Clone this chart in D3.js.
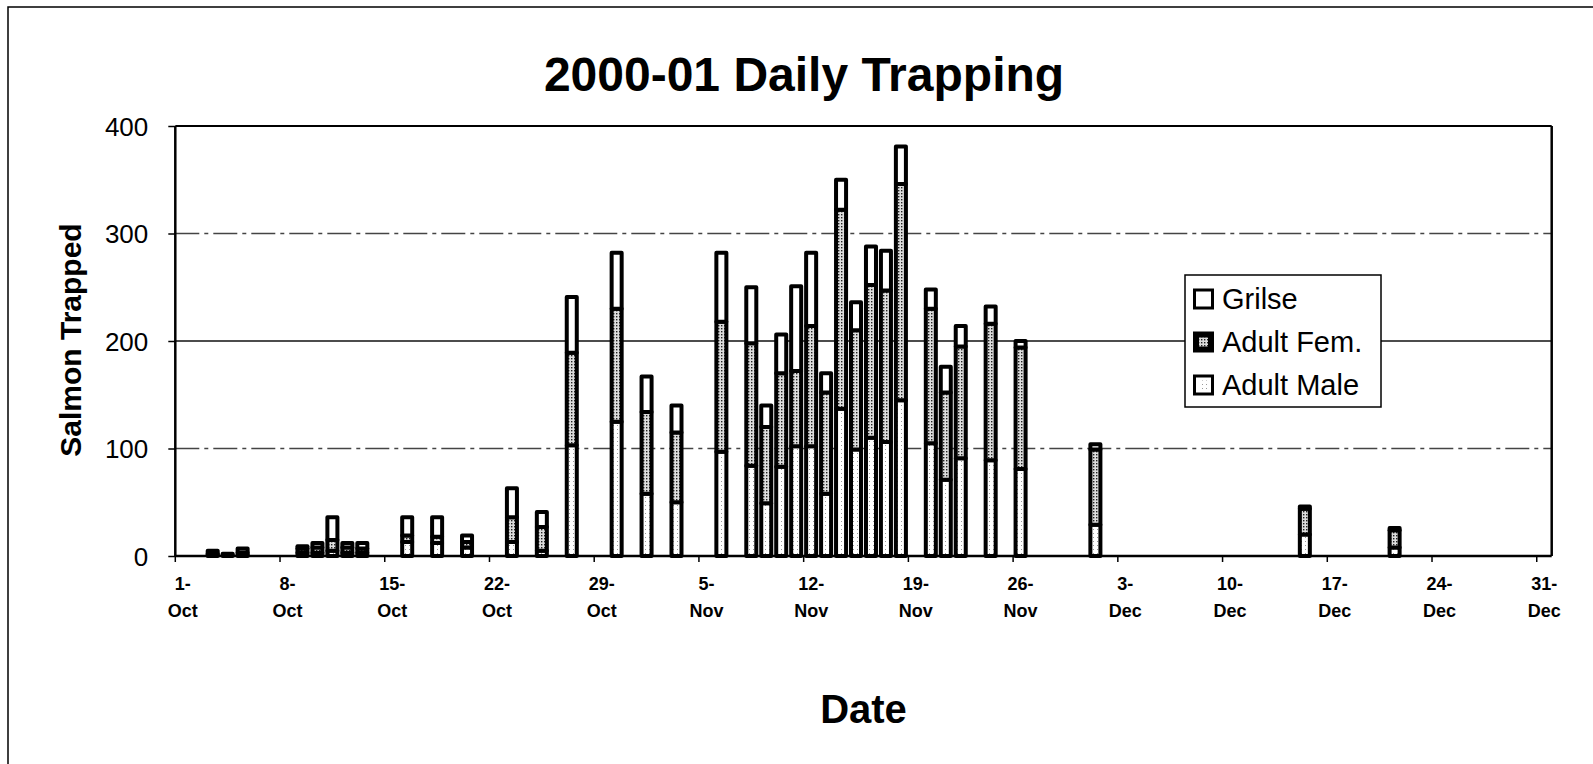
<!DOCTYPE html>
<html><head><meta charset="utf-8">
<script src="https://cdn.jsdelivr.net/npm/d3@7"></script>
<style>
html,body{margin:0;padding:0;background:#fff;}
svg{display:block;font-family:"Liberation Sans",Arial,sans-serif;}
</style></head>
<body>
<svg id="chart" width="1593" height="764"></svg>
<script>
// ---- data ----
const dates = ["3-Oct","4-Oct","5-Oct","9-Oct","10-Oct","11-Oct","12-Oct","13-Oct","16-Oct","18-Oct","20-Oct","23-Oct","25-Oct","27-Oct","30-Oct","1-Nov","3-Nov","6-Nov","8-Nov","9-Nov","10-Nov","11-Nov","12-Nov","13-Nov","14-Nov","15-Nov","16-Nov","17-Nov","18-Nov","20-Nov","21-Nov","22-Nov","24-Nov","26-Nov","1-Dec","15-Dec","21-Dec"];
const adultMale = [1,1,1,3,3,5,3,3,13,12,8,13,5,103,125,58,50,97,84,49,83,102,102,58,137,99,110,106,145,105,71,91,89,81,29,20,8];
const adultFem  = [1,0,2,4,5,10,5,4,6,6,5,23,22,86,105,76,65,121,114,71,87,70,112,94,185,111,142,141,201,125,81,104,127,113,70,24,16];
const grilse    = [3,1,4,2,4,21,4,5,17,18,6,27,14,52,52,33,25,64,52,20,36,79,68,18,28,26,36,37,35,18,24,19,16,6,5,2,2];
const tickLabels = ["1-Oct","8-Oct","15-Oct","22-Oct","29-Oct","5-Nov","12-Nov","19-Nov","26-Nov","3-Dec","10-Dec","17-Dec","24-Dec","31-Dec"];
const yTicks = [0,100,200,300,400];
const seriesNames = ["Grilse","Adult Fem.","Adult Male"];

// ---- setup ----
const svg = d3.select("#chart");
const fmt = d3.timeFormat("%-d-%b");
const allDays = d3.timeDay.range(new Date(2000,9,1), new Date(2001,0,1)).map(fmt);

const X0 = 175.3, X1 = 1551.7, Y0 = 556, Y1 = 126;
const pad = 0.33;
const x = d3.scaleBand().domain(allDays).range([X0, X1]).paddingInner(pad).paddingOuter(pad/2);
const y = d3.scaleLinear().domain([0,400]).range([Y0, Y1]);
const step = x.step();
const slotLeft = d => x(d) - (step - x.bandwidth())/2;

// patterns
const defs = svg.append("defs");
const pf = defs.append("pattern").attr("id","patFem").attr("patternUnits","userSpaceOnUse").attr("width",3).attr("height",3);
pf.append("rect").attr("width",3).attr("height",3).attr("fill","#ddd");
pf.append("rect").attr("x",1).attr("y",1).attr("width",1.4).attr("height",1.4).attr("fill","#222");
const pm = defs.append("pattern").attr("id","patMale").attr("patternUnits","userSpaceOnUse").attr("width",4).attr("height",4);
pm.append("rect").attr("width",4).attr("height",4).attr("fill","#fff");
pm.append("rect").attr("x",1).attr("y",1).attr("width",1).attr("height",1).attr("fill","#999");

// outer frame
svg.append("rect").attr("x",8).attr("y",7).attr("width",1620).attr("height",800)
  .attr("fill","none").attr("stroke","#000").attr("stroke-width",1.5);

// title
svg.append("text").attr("x",804).attr("y",91).attr("text-anchor","middle")
  .attr("font-size",48).attr("font-weight","bold").text("2000-01 Daily Trapping");

// gridlines
svg.append("g").selectAll("line").data([100,200,300]).join("line")
  .attr("x1",X0).attr("x2",X1).attr("y1",d=>y(d)).attr("y2",d=>y(d))
  .attr("stroke", d => d===200 ? "#111" : "#444")
  .attr("stroke-width",1.5)
  .attr("stroke-dasharray", d => d===200 ? null : "24,5,4,5");

// plot border top/right
svg.append("line").attr("x1",X0).attr("x2",X1).attr("y1",Y1).attr("y2",Y1).attr("stroke","#000").attr("stroke-width",1.8);
svg.append("line").attr("x1",X1).attr("x2",X1).attr("y1",Y1).attr("y2",Y0).attr("stroke","#000").attr("stroke-width",2.5);

// bars
const rows = dates.map((d,i)=>({date:d, "Adult Male":adultMale[i], "Adult Fem.":adultFem[i], "Grilse":grilse[i]}));
const stack = d3.stack().keys(["Adult Male","Adult Fem.","Grilse"]);
const fills = {"Adult Male":"url(#patMale)","Adult Fem.":"url(#patFem)","Grilse":"#fff"};
const layers = stack(rows);
svg.append("g").selectAll("g").data(layers).join("g")
  .attr("fill", d => fills[d.key])
  .selectAll("rect").data(d=>d.filter(s=>s[1]-s[0]>0)).join("rect")
  .attr("x", d => x(d.data.date))
  .attr("width", x.bandwidth())
  .attr("y", d => y(d[1]))
  .attr("height", d => y(d[0]) - y(d[1]))
  .attr("stroke","#000").attr("stroke-width",4).attr("stroke-linejoin","round");

// y axis
const yAxis = svg.append("g").attr("transform",`translate(${X0},0)`)
  .call(d3.axisLeft(y).tickValues(yTicks).tickSize(7).tickPadding(20));
yAxis.select(".domain").attr("stroke-width",2.5).attr("d",`M0,${Y0}V${Y1}`);
yAxis.selectAll(".tick line").attr("stroke-width",1.5);
yAxis.selectAll(".tick text").attr("font-size",26).attr("font-family","Liberation Sans, Arial, sans-serif").attr("fill","#000").attr("dy","0.35em");

// x axis baseline
svg.append("line").attr("x1",X0).attr("x2",X1).attr("y1",Y0).attr("y2",Y0).attr("stroke","#000").attr("stroke-width",2.5);
// x ticks at slot edges
svg.append("g").selectAll("line").data(tickLabels).join("line")
  .attr("x1",d=>slotLeft(d)).attr("x2",d=>slotLeft(d)).attr("y1",Y0).attr("y2",Y0+6)
  .attr("stroke","#000").attr("stroke-width",1.5);
const xAxis = svg.append("g").attr("transform",`translate(0,${Y0})`)
  .call(d3.axisBottom(x).tickValues(tickLabels).tickSize(0).tickPadding(0));
xAxis.select(".domain").remove();
xAxis.selectAll(".tick text").each(function(d){
  const t = d3.select(this).text("").attr("y",0).attr("dy",null)
    .attr("font-size",18).attr("font-weight","bold").attr("fill","#000")
    .attr("font-family","Liberation Sans, Arial, sans-serif");
  const parts = d.split("-");
  t.append("tspan").attr("x",0).attr("y",34).text(parts[0]+"-");
  t.append("tspan").attr("x",0).attr("y",61).text(parts[1]);
});

// axis titles
svg.append("text").attr("transform","translate(81,340) rotate(-90)").attr("text-anchor","middle")
  .attr("font-size",30).attr("font-weight","bold").text("Salmon Trapped");
svg.append("text").attr("x",(X0+X1)/2).attr("y",723).attr("text-anchor","middle")
  .attr("font-size",40).attr("font-weight","bold").text("Date");

// legend
const lg = svg.append("g").attr("transform","translate(1185,275)");
lg.append("rect").attr("width",196).attr("height",132).attr("fill","#fff").attr("stroke","#000").attr("stroke-width",1.5);
const legFill = {"Grilse":"#fff","Adult Fem.":"url(#patFem)","Adult Male":"url(#patMale)"};
seriesNames.forEach((n,i)=>{
  const cy = 24 + i*43;
  lg.append("rect").attr("x",9.5).attr("y",cy-9).attr("width",18).attr("height",18)
    .attr("fill", i===1 ? "#000" : "#fff").attr("stroke","#000").attr("stroke-width",3);
  if(i>0) lg.append("rect").attr("x",14).attr("y",cy-4.5).attr("width",9).attr("height",9)
    .attr("fill",legFill[n]);
  lg.append("text").attr("x",37).attr("y",cy+10).attr("font-size",29).text(n);
});
</script>
</body></html>
